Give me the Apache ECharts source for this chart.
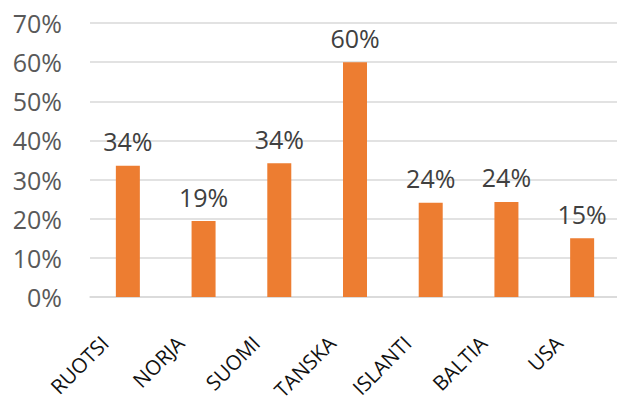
<!DOCTYPE html>
<html>
<head>
<meta charset="utf-8">
<style>
  html, body { margin: 0; padding: 0; background: #fff; }
  #chart { width: 617px; height: 403px; }
</style>
<script src="https://cdn.jsdelivr.net/npm/echarts@6/dist/echarts.min.js"></script>
</head>
<body>
<div id="chart"></div>
<script>
var categories = ['RUOTSI', 'NORJA', 'SUOMI', 'TANSKA', 'ISLANTI', 'BALTIA', 'USA'];
var shares = [33.5, 19.4, 34.2, 60.0, 24.1, 24.3, 15.0];
var yTicks = [0, 10, 20, 30, 40, 50, 60, 70];

var chart = echarts.init(document.getElementById('chart'), null, { renderer: 'svg' });
chart.setOption({
  animation: false,
  grid: { left: 90, top: 23, width: 530, height: 274, outerBoundsMode: 'none' },
  xAxis: {
    type: 'category',
    data: categories,
    axisLine: { lineStyle: { color: '#d9d9d9', width: 1.5 } },
    axisTick: { show: false },
    axisLabel: {
      rotate: 45,
      margin: 19,
      padding: [0, 33, 0, 0],
      color: '#111',
      fontFamily: 'Open Sans',
      fontSize: 20.5
    }
  },
  yAxis: {
    type: 'value',
    min: yTicks[0],
    max: yTicks[yTicks.length - 1],
    interval: 10,
    axisLine: { show: false },
    axisTick: { show: false },
    splitLine: { lineStyle: { color: '#d9d9d9', width: 1.5 } },
    axisLabel: {
      margin: 28,
      color: '#595959',
      fontFamily: 'Open Sans',
      fontSize: 25,
      formatter: '{value}%'
    }
  },
  series: [{
    type: 'bar',
    data: shares,
    barWidth: 24,
    itemStyle: { color: '#ED7D31' },
    label: {
      show: true,
      position: 'top',
      distance: 12,
      color: '#404040',
      fontFamily: 'Open Sans',
      fontSize: 25,
      formatter: function (p) { return Math.round(p.value) + '%'; }
    }
  }]
});
</script>
</body>
</html>
